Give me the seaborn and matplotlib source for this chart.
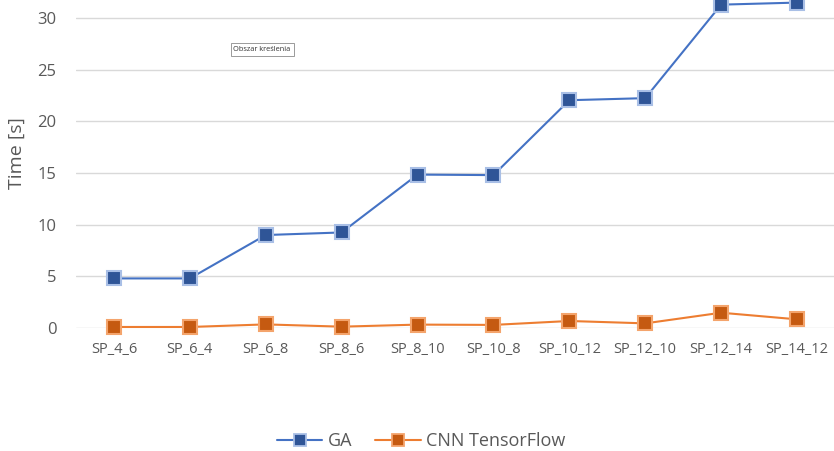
import matplotlib
matplotlib.use("Agg")
import matplotlib.pyplot as plt
from matplotlib.lines import Line2D
import seaborn as sns

categories = ["SP_4_6", "SP_6_4", "SP_6_8", "SP_8_6", "SP_8_10",
              "SP_10_8", "SP_10_12", "SP_12_10", "SP_12_14", "SP_14_12"]
ga_time = [4.8, 4.8, 9.0, 9.25, 14.85, 14.8, 22.05, 22.25, 31.3, 31.5]
cnn_time = [0.1, 0.1, 0.35, 0.13, 0.33, 0.3, 0.68, 0.45, 1.48, 0.84]

sns.set_style("white")
plt.rcParams['font.family'] = ['Open Sans', 'DejaVu Sans']

fig = plt.figure(figsize=(8.34, 4.51), dpi=100)
ax = fig.add_axes([0.0911, 0.2727, 0.9101, 0.7273])

txt = "#595959"
ga_line, ga_face, ga_edge = "#4472C4", "#2F5597", "#A9BFE6"
cnn_line, cnn_face, cnn_edge = "#ED7D31", "#C55A11", "#F4A46C"

sns.lineplot(x=categories, y=ga_time, sort=False, color=ga_line, lw=1.5,
             marker="s", markersize=10.5, markerfacecolor=ga_face,
             markeredgecolor=ga_edge, markeredgewidth=1.5, clip_on=False, ax=ax)
sns.lineplot(x=categories, y=cnn_time, sort=False, color=cnn_line, lw=1.5,
             marker="s", markersize=10.5, markerfacecolor=cnn_face,
             markeredgecolor=cnn_edge, markeredgewidth=1.5, clip_on=False, ax=ax)

ax.set_xlim(-0.5, 9.5)
ax.set_ylim(0, 31.75)
ax.set_yticks([0, 5, 10, 15, 20, 25, 30])
ax.grid(axis="y", color="#D9D9D9", lw=1)
ax.set_axisbelow(True)
for s in ax.spines.values():
    s.set_visible(False)
ax.tick_params(axis="y", length=0, labelsize=12, labelcolor=txt, pad=14)
ax.tick_params(axis="x", length=0, labelsize=10.5, labelcolor=txt, pad=10)
ax.set_xlabel("")
ax.set_ylabel("Time [s]", fontsize=14, color=txt)
ax.yaxis.set_label_coords(-0.066, 0.534)

# the little "plot area" tooltip left in the screenshot
ax.text(0.2075, 0.848, "Obszar kreślenia", transform=ax.transAxes, fontsize=5.3,
        color="#333333", va="center",
        bbox=dict(boxstyle="square,pad=0.4", fc="white", ec="#8a8a8a", lw=0.6))

handles = [
    Line2D([], [], color=ga_line, lw=1.5, marker="s", markersize=8,
           markerfacecolor=ga_face, markeredgecolor=ga_edge, markeredgewidth=1.3),
    Line2D([], [], color=cnn_line, lw=1.5, marker="s", markersize=8,
           markerfacecolor=cnn_face, markeredgecolor=cnn_edge, markeredgewidth=1.3),
]
leg = fig.legend(handles, ["GA", "CNN TensorFlow"], loc="center",
                 bbox_to_anchor=(0.505, 0.022), ncol=2, frameon=False,
                 fontsize=13, handlelength=2.5, columnspacing=1.3,
                 handletextpad=0.3)
for t in leg.get_texts():
    t.set_color(txt)

fig.savefig("out.png", dpi=100)
